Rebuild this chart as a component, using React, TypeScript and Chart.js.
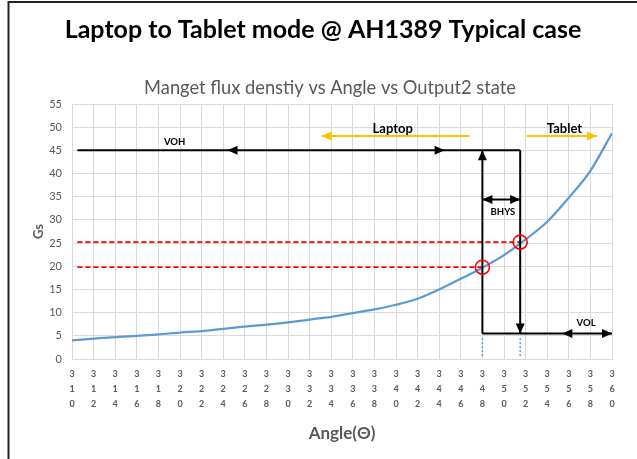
import { useEffect, useRef } from 'react';
import { Chart, registerables } from 'chart.js';
Chart.register(...registerables);

// ---- data ----
const ANGLES = [310, 312, 314, 316, 318, 320, 322, 324, 326, 328, 330, 332, 334, 336, 338, 340, 342, 344, 346, 348, 350, 352, 354, 356, 358, 360];
const GS = [4.0, 4.4, 4.7, 5.0, 5.3, 5.7, 6.0, 6.5, 7.0, 7.4, 7.9, 8.5, 9.1, 9.9, 10.7, 11.7, 13.0, 15.0, 17.3, 19.7, 22.4, 25.8, 29.6, 34.8, 40.6, 48.7];

const MAIN_TITLE = 'Laptop to Tablet mode @ AH1389 Typical case';
const SUB_TITLE = 'Manget flux denstiy vs Angle vs Output2 state';
const X_TITLE = 'Angle(Θ)';
const Y_TITLE = 'Gs';

const VOH = 45;
const VOL = 5.5;
const BOP_ANGLE = 348;
const BRP_ANGLE = 351.5;
const BOP_GS = 19.8;
const BRP_GS = 25.2;
const LINE_START = 310.5;
const BHYS_GS = 34.4;
const AXIS_END = 360;
const MODE_Y = 48.1;
const LAPTOP_ARROW = [346.8, 333.1];
const TABLET_ARROW = [352.1, 358.6];
const VOH_ARROWS = [324.4, 344.5];
const VOL_LEFT_ARROW = 355.4;
const DOT_RANGE = [0.6, 4.9];

const LABELS = [
  { text: 'VOH', x: 319.5, y: 46.8, size: 9.5 },
  { text: 'BHYS', x: 349.9, y: 31.8, size: 9.5 },
  { text: 'VOL', x: 357.6, y: 7.8, size: 9.5 },
  { text: 'Laptop', x: 339.7, y: 49.6, size: 13 },
  { text: 'Tablet', x: 355.6, y: 49.6, size: 13 },
];

type Dir = 'left' | 'right' | 'up' | 'down';
const ARROWS: { x: number; y: number; dir: Dir; color: string }[] = [
  { x: VOH_ARROWS[0], y: VOH, dir: 'left', color: '#000' },
  { x: VOH_ARROWS[1], y: VOH, dir: 'right', color: '#000' },
  { x: BOP_ANGLE, y: VOH, dir: 'up', color: '#000' },
  { x: BRP_ANGLE, y: VOL, dir: 'down', color: '#000' },
  { x: BOP_ANGLE, y: BHYS_GS, dir: 'left', color: '#000' },
  { x: BRP_ANGLE, y: BHYS_GS, dir: 'right', color: '#000' },
  { x: VOL_LEFT_ARROW, y: VOL, dir: 'left', color: '#000' },
  { x: AXIS_END, y: VOL, dir: 'right', color: '#000' },
  { x: LAPTOP_ARROW[1], y: MODE_Y, dir: 'left', color: '#ffc000' },
  { x: TABLET_ARROW[1], y: MODE_Y, dir: 'right', color: '#ffc000' },
];

const FONT = 'Lato, "Open Sans", sans-serif';

function seg(x1: number, y1: number, x2: number, y2: number, color: string, width = 2, dash: number[] = []) {
  return {
    type: 'line' as const,
    data: [{ x: x1, y: y1 }, { x: x2, y: y2 }],
    borderColor: color,
    borderWidth: width,
    borderDash: dash,
    pointRadius: 0,
    tension: 0,
    fill: false,
  };
}

const overlay = {
  id: 'overlay',
  beforeDraw(chart: any) {
    const ctx = chart.ctx as CanvasRenderingContext2D;
    ctx.save();
    ctx.fillStyle = '#fff';
    ctx.fillRect(0, 0, chart.width, chart.height);
    ctx.strokeStyle = '#222';
    ctx.lineWidth = 2;
    ctx.beginPath();
    ctx.moveTo(8.5, chart.height);
    ctx.lineTo(8.5, 2);
    ctx.lineTo(chart.width, 2);
    ctx.stroke();
    ctx.textAlign = 'center';
    ctx.textBaseline = 'middle';
    ctx.fillStyle = '#000';
    ctx.font = `bold 25px ${FONT}`;
    ctx.fillText(MAIN_TITLE, 323, 30);
    ctx.fillStyle = '#595959';
    ctx.font = `18.3px ${FONT}`;
    ctx.fillText(SUB_TITLE, 330, 88);
    ctx.restore();
  },
  afterDatasetsDraw(chart: any) {
    const ctx = chart.ctx as CanvasRenderingContext2D;
    const xs = chart.scales.x;
    const ys = chart.scales.y;
    ctx.save();
    for (const a of ARROWS) {
      const px = xs.getPixelForValue(a.x);
      const py = ys.getPixelForValue(a.y);
      const len = 10;
      const hw = 4.5;
      ctx.fillStyle = a.color;
      ctx.beginPath();
      ctx.moveTo(px, py);
      if (a.dir === 'left') { ctx.lineTo(px + len, py - hw); ctx.lineTo(px + len, py + hw); }
      if (a.dir === 'right') { ctx.lineTo(px - len, py - hw); ctx.lineTo(px - len, py + hw); }
      if (a.dir === 'up') { ctx.lineTo(px - hw, py + len); ctx.lineTo(px + hw, py + len); }
      if (a.dir === 'down') { ctx.lineTo(px - hw, py - len); ctx.lineTo(px + hw, py - len); }
      ctx.closePath();
      ctx.fill();
    }
    ctx.fillStyle = '#000';
    ctx.textAlign = 'center';
    ctx.textBaseline = 'middle';
    for (const l of LABELS) {
      ctx.font = `bold ${l.size}px ${FONT}`;
      ctx.fillText(l.text, xs.getPixelForValue(l.x), ys.getPixelForValue(l.y));
    }
    ctx.restore();
  },
};

export default function App() {
  const ref = useRef<HTMLCanvasElement>(null);
  useEffect(() => {
    const curve = ANGLES.map((a, i) => ({ x: a, y: GS[i] }));
    const chart = new Chart(ref.current!, {
      type: 'line',
      data: {
        datasets: [
          {
            type: 'line',
            data: [{ x: BOP_ANGLE, y: BOP_GS }, { x: BRP_ANGLE, y: BRP_GS }],
            showLine: false,
            pointRadius: 7,
            pointHoverRadius: 7,
            pointBorderColor: '#ff0000',
            pointBackgroundColor: 'rgba(0,0,0,0)',
            pointBorderWidth: 1.6,
          } as any,
          seg(LINE_START, VOH, BRP_ANGLE, VOH, '#000'),
          seg(BOP_ANGLE, VOL, BOP_ANGLE, VOH, '#000'),
          seg(BRP_ANGLE, VOH, BRP_ANGLE, VOL, '#000'),
          seg(BOP_ANGLE, VOL, AXIS_END, VOL, '#000'),
          seg(BOP_ANGLE, BHYS_GS, BRP_ANGLE, BHYS_GS, '#000'),
          seg(LAPTOP_ARROW[0], MODE_Y, LAPTOP_ARROW[1], MODE_Y, '#ffc000'),
          seg(TABLET_ARROW[0], MODE_Y, TABLET_ARROW[1], MODE_Y, '#ffc000'),
          seg(LINE_START, BRP_GS, BRP_ANGLE, BRP_GS, '#ff0000', 1.8, [5, 3]),
          seg(LINE_START, BOP_GS, BOP_ANGLE, BOP_GS, '#ff0000', 1.8, [5, 3]),
          seg(BOP_ANGLE, DOT_RANGE[0], BOP_ANGLE, DOT_RANGE[1], '#5b9bd5', 1.5, [2, 2]),
          seg(BRP_ANGLE, DOT_RANGE[0], BRP_ANGLE, DOT_RANGE[1], '#5b9bd5', 1.5, [2, 2]),
          {
            type: 'line',
            data: curve,
            borderColor: '#5b9bd5',
            borderWidth: 2.25,
            pointRadius: 0,
            cubicInterpolationMode: 'monotone',
            fill: false,
          } as any,
        ],
      },
      options: {
        responsive: false,
        animation: false,
        events: [],
        layout: { padding: { top: 104, right: 25, left: 0, bottom: 0 } },
        plugins: { legend: { display: false }, tooltip: { enabled: false }, title: { display: false } },
        scales: {
          x: {
            type: 'linear',
            min: 310,
            max: 360,
            ticks: {
              stepSize: 2,
              autoSkip: false,
              maxRotation: 0,
              padding: 8,
              color: '#595959',
              font: { family: FONT, size: 9, weight: 'bold', lineHeight: 15 / 9 },
              callback: (v: any) => String(v).split(''),
            },
            grid: { color: '#d9d9d9', drawTicks: false },
            border: { color: '#d9d9d9' },
            title: {
              display: true,
              text: X_TITLE,
              color: '#595959',
              font: { family: FONT, size: 17, weight: 'bold' },
              padding: { top: 4, bottom: 15 },
            },
            afterFit: (s: any) => { s.height = 100; },
          },
          y: {
            type: 'linear',
            min: 0,
            max: 55,
            ticks: {
              stepSize: 5,
              padding: 10,
              color: '#595959',
              font: { family: FONT, size: 11 },
            },
            grid: { color: '#d9d9d9', drawTicks: false },
            border: { color: '#d9d9d9' },
            title: {
              display: true,
              text: Y_TITLE,
              color: '#595959',
              font: { family: FONT, size: 13, weight: 'bold' },
              padding: { top: 31, bottom: 0 },
            },
            afterFit: (s: any) => { s.width = 72; },
          },
        },
      } as any,
      plugins: [overlay],
    });
    return () => chart.destroy();
  }, []);
  return (
    <div style={{ position: 'fixed', left: 0, top: 0, width: 637, height: 459 }}>
      <canvas ref={ref} width={637} height={459} style={{ width: 637, height: 459, display: 'block' }} />
    </div>
  );
}
